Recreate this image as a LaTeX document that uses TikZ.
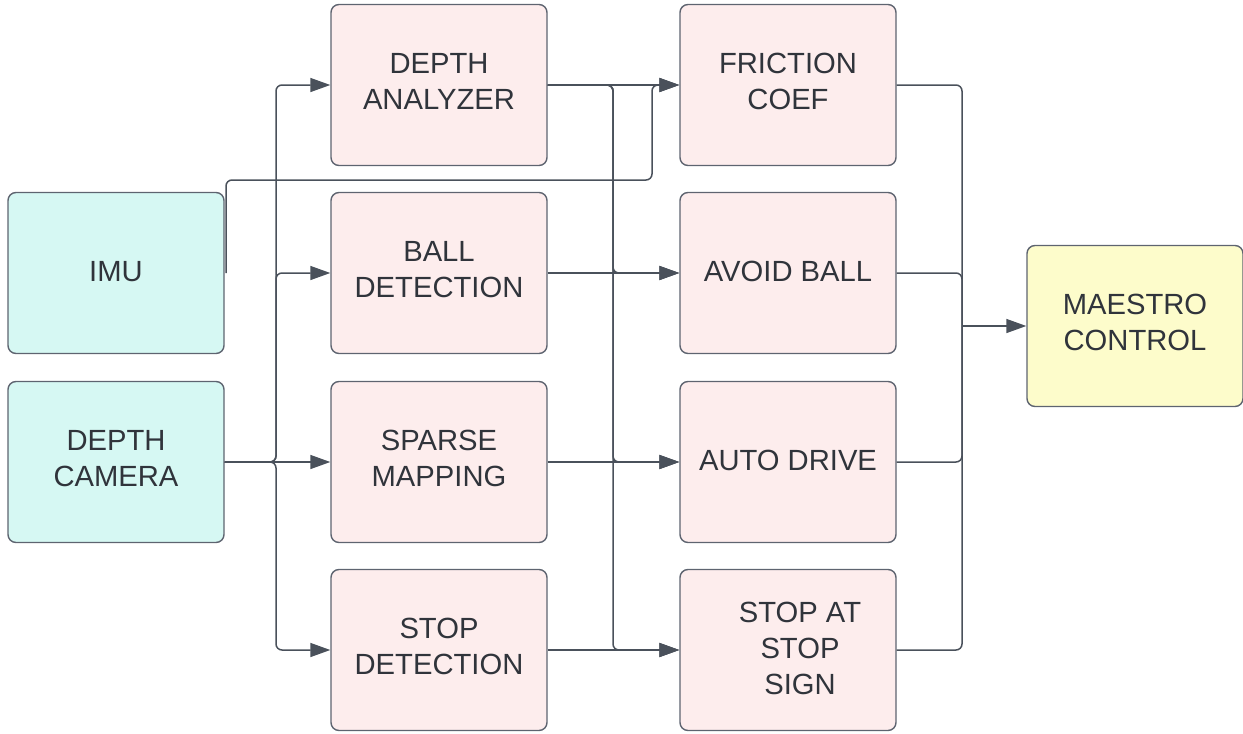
\documentclass[tikz,border=0pt]{standalone}
\usepackage{fontspec}
\setmainfont{Liberation Sans}
\usetikzlibrary{arrows.meta}
\definecolor{teal1}{HTML}{D6F8F3}
\definecolor{pink1}{HTML}{FDEDED}
\definecolor{yell1}{HTML}{FDFCCB}
\definecolor{bordc}{HTML}{5E6470}
\definecolor{linec}{HTML}{4A515B}
\definecolor{txtc}{HTML}{30343B}
\begin{document}
\begin{tikzpicture}[x=0.5pt,y=-0.5pt,
  box/.style={draw=bordc, line width=0.7pt, rounded corners=4pt,
    minimum width=108pt, minimum height=80.5pt, inner sep=0pt, align=center,
    font=\fontsize{14.6}{18}\selectfont, text=txtc, text depth=3.5pt},
  one/.style={text depth=1.6pt},
  src/.style={box, fill=teal1},
  proc/.style={box, fill=pink1},
  outb/.style={box, fill=yell1},
  conn/.style={draw=linec, line width=0.75pt, rounded corners=3pt},
  arr/.style={conn, -{Triangle[length=10pt,width=7pt]}}]
\useasboundingbox (0,0) rectangle (1243,734);
% sources
\node[src,one] (imu) at (116,273) {IMU};
\node[src] (cam) at (116,462) {DEPTH\\CAMERA};
% column 2
\node[proc] (da) at (439,85) {DEPTH\\ANALYZER};
\node[proc] (bd) at (439,273) {BALL\\DETECTION};
\node[proc] (sm) at (439,462) {SPARSE\\MAPPING};
\node[proc] (sd) at (439,650) {STOP\\DETECTION};
% column 3
\node[proc] (fc) at (788,85) {FRICTION\\COEF};
\node[proc,one] (ab) at (788,273) {AVOID BALL};
\node[proc,one] (ad) at (788,462) {AUTO DRIVE};
\node[proc] (ss) at (788,650) {};
\node[font=\fontsize{14.6}{18}\selectfont, text=txtc, align=center] (sstxt) at (800,648) {STOP AT\\STOP\\SIGN};
% output
\node[outb] (mc) at (1135,326) {MAESTRO\\CONTROL};
% coordinates
\coordinate (cb) at (276,462);
\coordinate (i1) at (226,273);
\coordinate (i2) at (226,180);
\coordinate (i3) at (652,180);
\coordinate (db) at (613,85);
\coordinate (mb) at (962,326);
% depth camera bus
\draw[arr] (cam.east) -- (cb) |- (da.west);
\draw[arr] (cam.east) -- (cb) |- (bd.west);
\draw[arr] (cam.east) -- (sm.west);
\draw[arr] (cam.east) -- (cb) |- (sd.west);
% IMU to friction
\draw[arr] (i1) -- (i2) -- (i3) |- (fc.west);
% depth analyzer
\draw[arr] (da.east) -- (fc.west);
\draw[arr] (da.east) -- (db) |- (ab.west);
\draw[arr] (da.east) -- (db) |- (ad.west);
\draw[arr] (da.east) -- (db) |- (ss.west);
% straight links
\draw[arr] (bd.east) -- (ab.west);
\draw[arr] (sm.east) -- (ad.west);
\draw[arr] (sd.east) -- (ss.west);
% to maestro
\draw[conn] (fc.east) -| (mb);
\draw[conn] (ab.east) -| (mb);
\draw[conn] (ad.east) -| (mb);
\draw[conn] (ss.east) -| (mb);
\draw[arr] (mb) -- (mc.west);
\end{tikzpicture}
\end{document}
